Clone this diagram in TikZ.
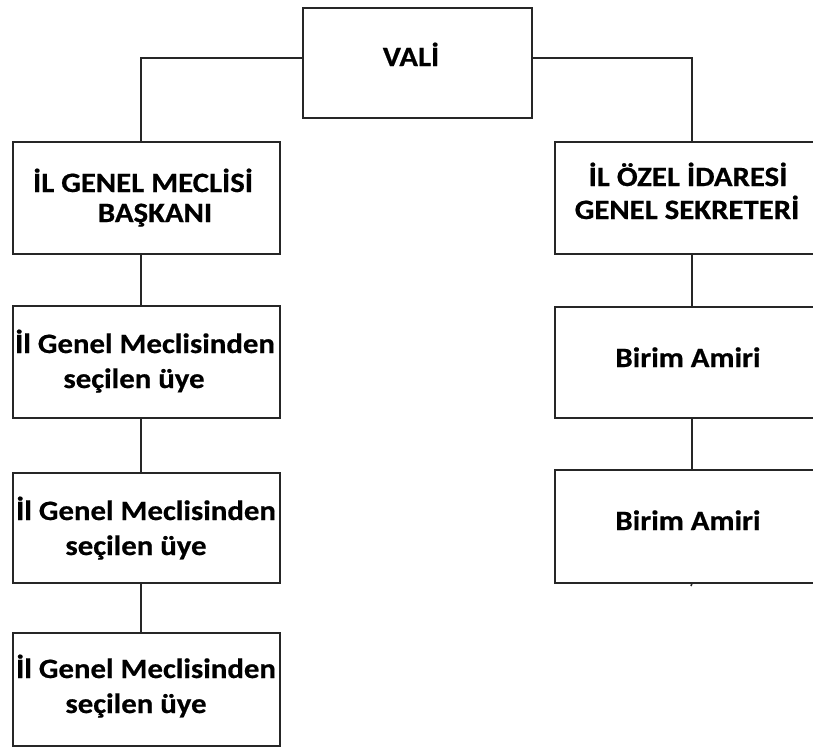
\documentclass[tikz,border=0pt]{standalone}
\usepackage{fontspec}
\setmainfont{Carlito}[FakeStretch=1.1, BoldFeatures={FakeBold=0.6}]
\begin{document}
\begin{tikzpicture}[x=1pt,y=-1pt,
  box/.style={draw=black!85, line width=1.6pt, rectangle, inner sep=0pt, anchor=north west},
  conn/.style={draw=black!85, line width=1.6pt},
  txt/.style={font=\fontsize{28}{34}\selectfont\bfseries, anchor=base, inner sep=0pt, text=black}]
\useasboundingbox (0,0) rectangle (813,747);
\clip (0,0) rectangle (813,747);
% boxes
\node[box, minimum width=229pt, minimum height=110pt] (vali) at (302,7) {};
\node[box, minimum width=267pt, minimum height=112pt] (lb) at (12,141) {};
\node[box, minimum width=274pt, minimum height=112pt] (rb) at (554,141) {};
\node[box, minimum width=267pt, minimum height=112pt] (m1) at (12,305) {};
\node[box, minimum width=267pt, minimum height=110pt] (m2) at (12,472) {};
\node[box, minimum width=267pt, minimum height=113pt] (m3) at (12,632) {};
\node[box, minimum width=274pt, minimum height=111pt] (b1) at (554,306) {};
\node[box, minimum width=274pt, minimum height=113pt] (b2) at (554,469) {};
\coordinate (tick) at (691,586);
% texts
\node[txt] (t0) at (411,66) {VALİ};
\node[txt] (t1a) at (143,192) {İL GENEL MECLİSİ};
\node[txt] (t1b) at (155,222) {BAŞKANI};
\node[txt] (t2a) at (688,186) {İL ÖZEL İDARESİ};
\node[txt] (t2b) at (687,219) {GENEL SEKRETERİ};
\node[txt] (t3a) at (145,353) {İl Genel Meclisinden};
\node[txt] (t3b) at (134,388) {seçilen üye};
\node[txt] (t4a) at (146,520) {İl Genel Meclisinden};
\node[txt] (t4b) at (136,555) {seçilen üye};
\node[txt] (t5a) at (146,678) {İl Genel Meclisinden};
\node[txt] (t5b) at (136,713) {seçilen üye};
\node[txt] (t6) at (688,367) {Birim Amiri};
\node[txt] (t7) at (688,530) {Birim Amiri};
% connectors
\draw[conn] ([yshift=5pt]vali.west) -| ([xshift=-5.5pt]lb.north);
\draw[conn] ([yshift=5pt]vali.east) -| (rb.north);
\draw[conn] ([xshift=-5.5pt]lb.south) -- ([xshift=-5.5pt]m1.north);
\draw[conn] ([xshift=-5.5pt]m1.south) -- ([xshift=-5.5pt]m2.north);
\draw[conn] ([xshift=-5.5pt]m2.south) -- ([xshift=-5.5pt]m3.north);
\draw[conn] (rb.south) -- (b1.north);
\draw[conn] (b1.south) -- (b2.north);
\draw[conn] (b2.south) -- (tick);
\end{tikzpicture}
\end{document}
